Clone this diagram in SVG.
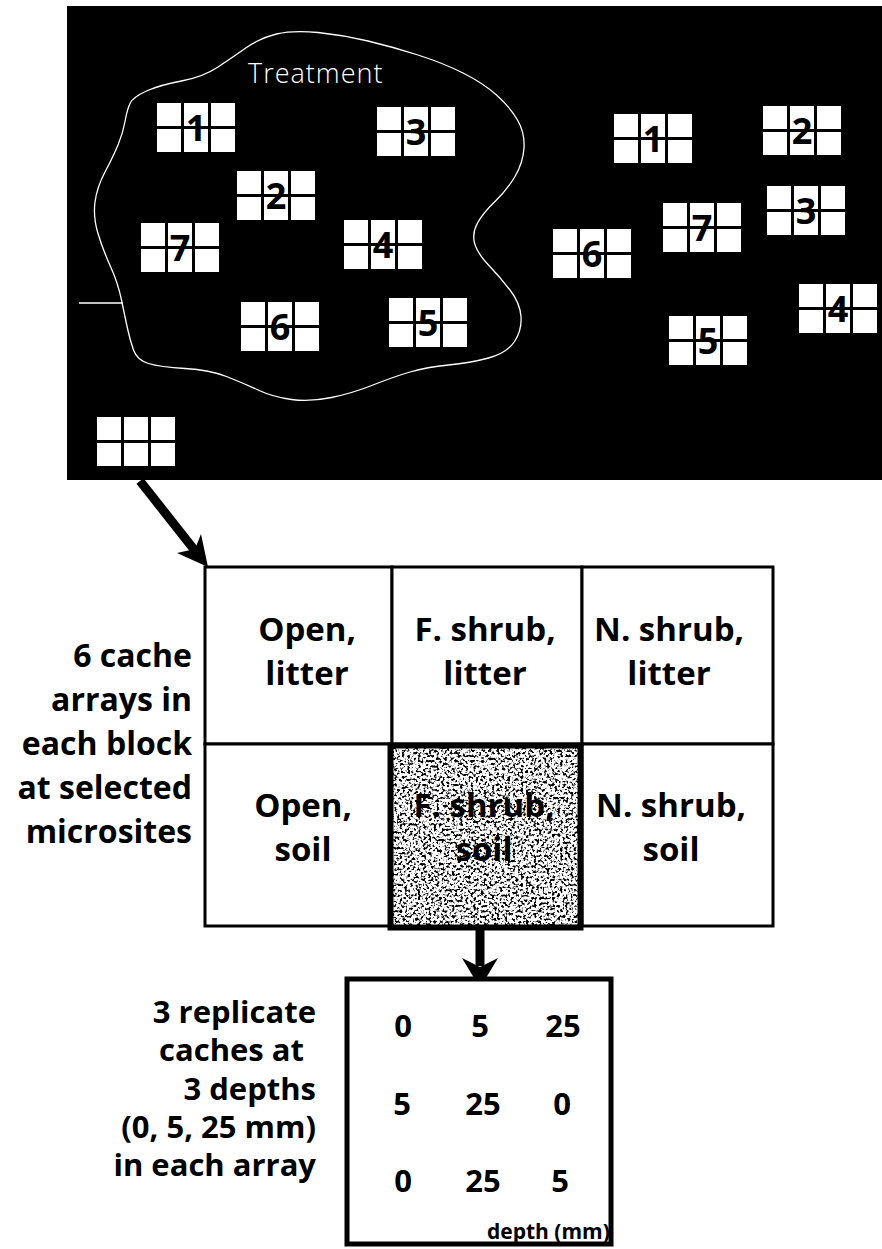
<svg xmlns="http://www.w3.org/2000/svg" xmlns:xlink="http://www.w3.org/1999/xlink" width="882" height="1249" viewBox="0 0 882 1249">
<style>
.lbl{font-family:"Open Sans","Noto Sans",sans-serif;font-weight:700;font-size:32px;fill:#000;text-anchor:end}
.lbl2{font-family:"Open Sans","Noto Sans",sans-serif;font-weight:700;font-size:31px;fill:#000;text-anchor:end}
.cell{font-family:"Open Sans","Noto Sans",sans-serif;font-weight:700;font-size:33px;fill:#000;text-anchor:middle}
.num{font-family:"Open Sans","Noto Sans",sans-serif;font-weight:700;font-size:31px;fill:#000;text-anchor:middle}
.dig{font-family:"Open Sans","Noto Sans",sans-serif;font-weight:700;font-size:36px;fill:#000;text-anchor:middle}
.grid{fill:#fff;stroke:#000;stroke-width:3}
.shaft{stroke:#000;stroke-width:9;fill:none}
</style>
<defs>
<symbol id="blk" overflow="visible">
<rect x="0" y="0" width="24" height="23" fill="#fff"/>
<rect x="27" y="0" width="24" height="23" fill="#fff"/>
<rect x="54" y="0" width="24" height="23" fill="#fff"/>
<rect x="0" y="26" width="24" height="23" fill="#fff"/>
<rect x="27" y="26" width="24" height="23" fill="#fff"/>
<rect x="54" y="26" width="24" height="23" fill="#fff"/>
</symbol>
<filter id="grain" x="0" y="0" width="100%" height="100%" filterUnits="objectBoundingBox">
<feTurbulence type="fractalNoise" baseFrequency="0.38" numOctaves="2" seed="11" result="n"/>
<feColorMatrix in="n" type="matrix" values="0 0 0 0 0  0 0 0 0 0  0 0 0 0 0  7 0 0 0 -3.5"/>
</filter>
</defs>

<g id="field">
<rect x="67" y="6" width="815" height="474" fill="#000"/>
<path d="M130,103.5 Q133,97 146.5,91 Q160,85 181.5,81 Q203,77 218,67 Q233,57 246.5,47.5 Q260,38 276.5,34 Q293,30 318,32.5 Q343,35 368,41 Q393,47 418,55 Q443,63 463,73 Q483,83 496.5,95 Q510,107 517.5,120 Q525,133 524,148 Q523,163 515,176.5 Q507,190 495,201.5 Q483,213 477.5,223 Q472,233 474.5,243 Q477,253 488.5,265 Q500,277 510,290 Q520,303 521,316.5 Q522,330 514.5,341.5 Q507,353 488.5,358 Q470,363 448.5,365 Q427,367 410,372 Q393,377 373,385 Q353,393 331.5,397.5 Q310,402 291.5,399.5 Q273,397 258,390 Q243,383 226.5,376.5 Q210,370 185,368.5 Q160,367 148.5,363.5 Q137,360 133.5,350 Q130,340 127.5,328.5 Q125,317 121.5,300 Q118,283 110.5,266.5 Q103,250 98,233.5 Q93,217 95,202 Q97,187 105,172 Q113,157 118,145 Q123,133 125,121.5 Q127,110 130,103.5 Z" fill="none" stroke="#fff" stroke-width="1.3"/>
<line x1="79" y1="303" x2="123" y2="303" stroke="#fff" stroke-width="1.3"/>
<text x="248" y="83" font-family="'Open Sans','Noto Sans',sans-serif" font-weight="300" font-size="27" fill="#fff" letter-spacing="1">Treatment</text>
</g>

<g id="treatment-blocks">
<g id="t1"><use xlink:href="#blk" x="157" y="103"/><text class="dig" x="196" y="141">1</text></g>
<g id="t2"><use xlink:href="#blk" x="237" y="171"/><text class="dig" x="276" y="209">2</text></g>
<g id="t3"><use xlink:href="#blk" x="377" y="107"/><text class="dig" x="416" y="145">3</text></g>
<g id="t4"><use xlink:href="#blk" x="344" y="220"/><text class="dig" x="383" y="258">4</text></g>
<g id="t5"><use xlink:href="#blk" x="389" y="298"/><text class="dig" x="428" y="336">5</text></g>
<g id="t6"><use xlink:href="#blk" x="241" y="302"/><text class="dig" x="280" y="340">6</text></g>
<g id="t7"><use xlink:href="#blk" x="141" y="223"/><text class="dig" x="180" y="261">7</text></g>
</g>

<g id="control-blocks">
<g id="c1"><use xlink:href="#blk" x="614" y="114"/><text class="dig" x="653" y="152">1</text></g>
<g id="c2"><use xlink:href="#blk" x="763" y="106"/><text class="dig" x="802" y="144">2</text></g>
<g id="c3"><use xlink:href="#blk" x="767" y="186"/><text class="dig" x="806" y="224">3</text></g>
<g id="c4"><use xlink:href="#blk" x="799" y="284"/><text class="dig" x="838" y="322">4</text></g>
<g id="c5"><use xlink:href="#blk" x="669" y="316"/><text class="dig" x="708" y="354">5</text></g>
<g id="c6"><use xlink:href="#blk" x="553" y="229"/><text class="dig" x="592" y="267">6</text></g>
<g id="c7"><use xlink:href="#blk" x="663" y="203"/><text class="dig" x="702" y="241">7</text></g>
</g>

<g id="example-block"><use xlink:href="#blk" x="97" y="417"/></g>

<g id="connectors">
<line class="shaft" x1="140" y1="481" x2="196" y2="552"/>
<polygon points="208,567 177,553 195,549 201,534" fill="#000"/>
<line class="shaft" x1="480" y1="930" x2="480" y2="966"/>
<polygon points="480,988 462,958 480,967 498,958" fill="#000"/>
</g>

<g id="microsite-label">
<text class="lbl"><tspan x="192" y="667">6 cache</tspan><tspan x="192" y="711">arrays in</tspan><tspan x="192" y="755">each block</tspan><tspan x="192" y="799">at selected</tspan><tspan x="192" y="843">microsites</tspan></text>
</g>

<g id="microsite-grid">
<g id="open-litter"><rect class="grid" x="205" y="567" width="187" height="177"/><text class="cell"><tspan x="307" y="641">Open,</tspan><tspan x="307" y="685">litter</tspan></text></g>
<g id="fshrub-litter"><rect class="grid" x="392" y="567" width="190" height="177"/><text class="cell"><tspan x="485" y="641">F. shrub,</tspan><tspan x="485" y="685">litter</tspan></text></g>
<g id="nshrub-litter"><rect class="grid" x="582" y="567" width="191" height="177"/><text class="cell"><tspan x="669" y="641">N. shrub,</tspan><tspan x="669" y="685">litter</tspan></text></g>
<g id="open-soil"><rect class="grid" x="205" y="744" width="187" height="182"/><text class="cell"><tspan x="303" y="817">Open,</tspan><tspan x="303" y="861">soil</tspan></text></g>
<g id="nshrub-soil"><rect class="grid" x="582" y="744" width="191" height="182"/><text class="cell"><tspan x="671" y="817">N. shrub,</tspan><tspan x="671" y="861">soil</tspan></text></g>
<g id="fshrub-soil">
<rect x="390.5" y="745.5" width="190" height="182" fill="#fff"/>
<rect x="390.5" y="745.5" width="190" height="182" fill="#000" filter="url(#grain)"/>
<rect x="390.5" y="745.5" width="190" height="182" fill="none" stroke="#000" stroke-width="6"/>
<text class="cell" font-weight="800" fill="#000"><tspan x="484" y="817">F. shrub,</tspan><tspan x="484" y="861">soil</tspan></text>
</g>
</g>

<g id="depth-label">
<text class="lbl2"><tspan x="316" y="1023">3 replicate</tspan><tspan x="304" y="1061">caches at</tspan><tspan x="316" y="1100">3 depths</tspan><tspan x="316" y="1138">(0, 5, 25 mm)</tspan><tspan x="316" y="1176">in each array</tspan></text>
</g>

<g id="cache-array">
<rect x="347" y="979" width="264" height="265" fill="#fff" stroke="#000" stroke-width="5"/>
<text class="num" x="403" y="1037">0</text><text class="num" x="480" y="1037">5</text><text class="num" x="563" y="1037">25</text>
<text class="num" x="402" y="1115">5</text><text class="num" x="483" y="1115">25</text><text class="num" x="562" y="1115">0</text>
<text class="num" x="403" y="1192">0</text><text class="num" x="483" y="1192">25</text><text class="num" x="560" y="1192">5</text>
<text x="487" y="1239" font-family="'Open Sans','Noto Sans',sans-serif" font-weight="700" font-size="21">depth (mm)</text>
</g>
</svg>
